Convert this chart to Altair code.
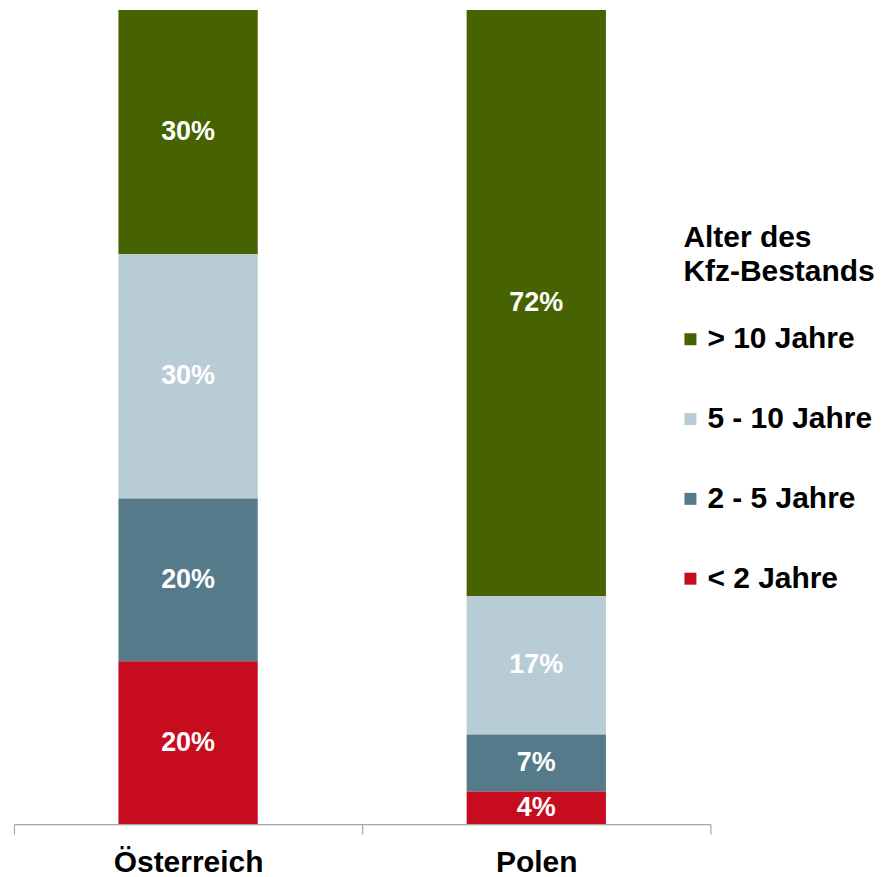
import altair as alt
import pandas as pd

countries = ["Österreich", "Polen"]
categories = ["> 10 Jahre", "5 - 10 Jahre", "2 - 5 Jahre", "< 2 Jahre"]
colors = ["#476200", "#b8ccd6", "#557b8b", "#c70c20"]
oesterreich = [30, 30, 20, 20]
polen = [72, 17, 7, 4]

rows = []
for country, vals in zip(countries, [oesterreich, polen]):
    for i, (cat, v) in enumerate(zip(categories, vals)):
        rows.append({"land": country, "alter": cat, "wert": v, "rang": len(categories) - 1 - i})
df = pd.DataFrame(rows)

FONT = "Liberation Sans"

base = alt.Chart(df).transform_stack(
    stack="wert", groupby=["land"], as_=["y0", "y1"], offset="normalize",
    sort=[alt.SortField("rang", order="ascending")]
).transform_calculate(
    mid="(datum.y0 + datum.y1) / 2", label="datum.wert + '%'"
)

x_scale = alt.Scale(paddingInner=0, paddingOuter=0)
x_enc = alt.X(
    "land:N", sort=countries, scale=x_scale,
    axis=alt.Axis(
        title=None, labelAngle=0, tickBand="extent", tickSize=10,
        domainColor="#a6a6a6", tickColor="#a6a6a6", domainWidth=1.2, tickWidth=1.2,
        labelFont=FONT, labelFontSize=30, labelFontWeight="bold", labelColor="#000000",
        labelPadding=13, grid=False,
    ),
)
y_scale = alt.Scale(domain=[0, 1], nice=False, zero=True)

bars = base.mark_bar(width=alt.RelativeBandSize(0.4)).encode(
    x=x_enc,
    y=alt.Y("y0:Q", scale=y_scale, axis=None),
    y2="y1:Q",
    color=alt.Color(
        "alter:N",
        scale=alt.Scale(domain=categories, range=colors),
        legend=alt.Legend(
            title=["Alter des", "Kfz-Bestands"], orient="none", legendX=671, legendY=214,
            symbolType="square", symbolSize=144, symbolStrokeWidth=0, symbolOffset=-8,
            labelFont=FONT, labelFontSize=30, labelFontWeight="bold", labelColor="#000000",
            titleFont=FONT, titleFontSize=30, titleFontWeight="bold", titleColor="#000000",
            titleLineHeight=34, titlePadding=37, rowPadding=50, labelOffset=2,
            labelLimit=400, titleLimit=400,
        ),
    ),
)

texts = base.mark_text(
    color="white", font=FONT, fontSize=27, fontWeight="bold", baseline="middle", align="center"
).encode(
    x=alt.X("land:N", sort=countries),
    y=alt.Y("mid:Q", scale=y_scale, axis=None),
    text="label:N",
)

chart = alt.layer(bars, texts).properties(
    width=698, height=816,
    autosize=alt.AutoSizeParams(type="none"),
    padding={"left": 6, "top": 1, "right": 166, "bottom": 55},
).configure_view(stroke=None)

chart.save("out.html", embed_options={"renderer": "svg", "actions": False})
